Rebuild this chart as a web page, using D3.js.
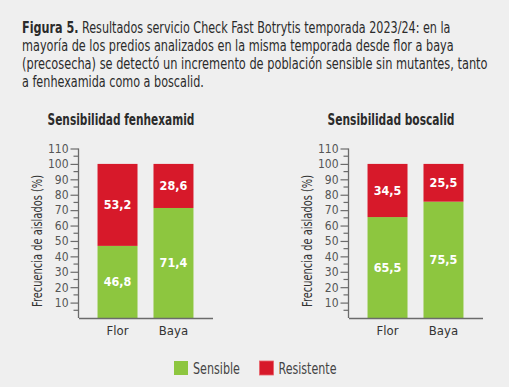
<!DOCTYPE html>
<html>
<head>
<meta charset="utf-8">
<script src="https://cdn.jsdelivr.net/npm/d3@7"></script>
<style>
  body { margin: 0; background: #efefef; }
  svg { display: block; }
  text { font-family: "Liberation Sans Narrow", "DejaVu Sans Condensed", sans-serif; }
</style>
</head>
<body>
<svg width="509" height="387"></svg>
<script>
// data
var categories = ["Flor", "Baya"];
var seriesNames = ["Sensible", "Resistente"];
var fenSensible = [46.8, 71.4];
var fenResistente = [53.2, 28.6];
var bosSensible = [65.5, 75.5];
var bosResistente = [34.5, 25.5];
var chartTitles = ["Sensibilidad fenhexamid", "Sensibilidad boscalid"];
var yTicks = [10, 20, 30, 40, 50, 60, 70, 80, 90, 100, 110];
var yMinorTicks = [5, 15, 25, 35, 45, 55, 65, 75, 85, 95, 105];
var captionLines = [
  ["Figura 5.", " Resultados servicio Check Fast Botrytis temporada 2023/24: en la"],
  ["", "mayoría de los predios analizados en la misma temporada desde flor a baya"],
  ["", "(precosecha) se detectó un incremento de población sensible sin mutantes, tanto"],
  ["", "a fenhexamida como a boscalid."]
];

// layout: widths the condensed text has to fit in
var captionWidths = [429, 432, 466, 182];
var titleWidths = [147, 127];

var green = "#8dc63f", red = "#d7192a", axisColor = "#6b6b6b", textColor = "#333";

var svg = d3.select("svg");
svg.append("rect").attr("width", 509).attr("height", 387).attr("fill", "#efefef");

// squeeze a text horizontally to width w, around its anchor point (ax, ay)
function fit(sel, w, ax, ay, pre) {
  var L = sel.node().getComputedTextLength();
  var k = Math.min(1, w / L);
  sel.attr("transform", (pre || "") + "translate(" + ax + "," + ay + ") scale(" + k + ",1)");
}

// caption
captionLines.forEach(function(line, i) {
  var t = svg.append("text")
      .attr("font-size", 15)
      .attr("fill", "#2b2b2b");
  if (line[0]) t.append("tspan").attr("font-weight", "bold").text(line[0]);
  t.append("tspan").text(line[1]);
  fit(t, captionWidths[i], 22, 32.5 + i * 18);
});

var y = d3.scaleLinear().domain([0, 110]).range([318, 148.5]);

function drawChart(offsetX, title, titleW, sens, res) {
  var g = svg.append("g").attr("transform", "translate(" + offsetX + ",0)");

  var x = d3.scaleBand()
      .domain(categories)
      .range([0, 134])
      .paddingInner(0.2857)
      .paddingOuter(0.34);

  g.append("text")
      .attr("text-anchor", "middle")
      .attr("font-size", 15.5)
      .attr("font-weight", "bold")
      .attr("fill", "#2b2b2b")
      .text(title)
      .call(fit, titleW, 42.5, 125);

  var rows = categories.map(function(c, i) { return {cat: c, s: sens[i], r: res[i]}; });

  // sensible (bottom)
  g.selectAll(".bar-s").data(rows).enter().append("rect")
      .attr("x", function(d) { return x(d.cat); })
      .attr("width", x.bandwidth())
      .attr("y", function(d) { return y(d.s); })
      .attr("height", function(d) { return y(0) - y(d.s); })
      .attr("fill", green);

  // resistente (top), stack capped at 100 %
  g.selectAll(".bar-r").data(rows).enter().append("rect")
      .attr("x", function(d) { return x(d.cat); })
      .attr("width", x.bandwidth())
      .attr("y", function(d) { return y(Math.min(100, d.s + d.r)); })
      .attr("height", function(d) { return y(d.s) - y(Math.min(100, d.s + d.r)); })
      .attr("fill", red);

  var fmt = function(v) { return d3.format(".1f")(v).replace(".", ","); };

  g.selectAll(".lab-s").data(rows).enter().append("text")
      .attr("x", function(d) { return x(d.cat) + x.bandwidth() / 2; })
      .attr("y", function(d) { return y(d.s / 2); })
      .attr("dy", "0.36em")
      .attr("text-anchor", "middle")
      .attr("font-size", 12.5)
      .attr("font-weight", "bold")
      .attr("fill", "#fff")
      .text(function(d) { return fmt(d.s); });

  g.selectAll(".lab-r").data(rows).enter().append("text")
      .attr("x", function(d) { return x(d.cat) + x.bandwidth() / 2; })
      .attr("y", function(d) { return y(d.s + Math.min(d.r, 100 - d.s) / 2); })
      .attr("dy", "0.36em")
      .attr("text-anchor", "middle")
      .attr("font-size", 12.5)
      .attr("font-weight", "bold")
      .attr("fill", "#fff")
      .text(function(d) { return fmt(d.r); });

  // y axis
  var yAxis = d3.axisLeft(y).tickValues(yTicks).tickSize(8).tickPadding(2);
  var gy = g.append("g").call(yAxis);
  gy.select(".domain").remove();
  gy.selectAll(".tick line").attr("stroke", axisColor).attr("stroke-width", 1.2);
  gy.selectAll(".tick text")
      .attr("font-family", "Liberation Sans Narrow, DejaVu Sans Condensed, sans-serif")
      .attr("font-size", 12)
      .attr("fill", "#555");
  g.append("g").selectAll("line").data(yMinorTicks).enter().append("line")
      .attr("x1", -5).attr("x2", 0)
      .attr("y1", function(d) { return y(d); })
      .attr("y2", function(d) { return y(d); })
      .attr("stroke", axisColor).attr("stroke-width", 1.2);
  g.append("line")
      .attr("x1", 0).attr("x2", 0)
      .attr("y1", y(110)).attr("y2", y(0))
      .attr("stroke", axisColor).attr("stroke-width", 1.3);

  // x axis
  var xAxis = d3.axisBottom(x).tickSize(0).tickPadding(8);
  var gx = g.append("g").attr("transform", "translate(0," + y(0) + ")").call(xAxis);
  gx.select(".domain").attr("stroke", axisColor).attr("stroke-width", 1.3);
  gx.selectAll(".tick text")
      .attr("font-family", "Liberation Sans Narrow, DejaVu Sans Condensed, sans-serif")
      .attr("font-size", 13)
      .attr("fill", textColor);

  g.append("text")
      .attr("dy", "0.35em")
      .attr("text-anchor", "middle")
      .attr("font-size", 13.5)
      .attr("fill", textColor)
      .text("Frecuencia de aislados (%)")
      .call(fit, 132, 0, 0, "translate(-41.5," + y(50) + ") rotate(-90) ");
}

drawChart(78.5, chartTitles[0], titleWidths[0], fenSensible, fenResistente);
drawChart(348.5, chartTitles[1], titleWidths[1], bosSensible, bosResistente);

// legend
var legendX = [174, 259.5];
var legendW = [47, 58];
var legend = svg.append("g");
seriesNames.forEach(function(name, i) {
  legend.append("rect")
      .attr("x", legendX[i]).attr("y", 361)
      .attr("width", 14).attr("height", 14)
      .attr("fill", i === 0 ? green : red)
      .attr("stroke", i === 0 ? "none" : "#e8636b")
      .attr("stroke-width", 0.8);
  legend.append("text")
      .attr("font-size", 15.5)
      .attr("fill", "#444")
      .text(name)
      .call(fit, legendW[i], legendX[i] + 19, 373.5);
});
</script>
</body>
</html>
